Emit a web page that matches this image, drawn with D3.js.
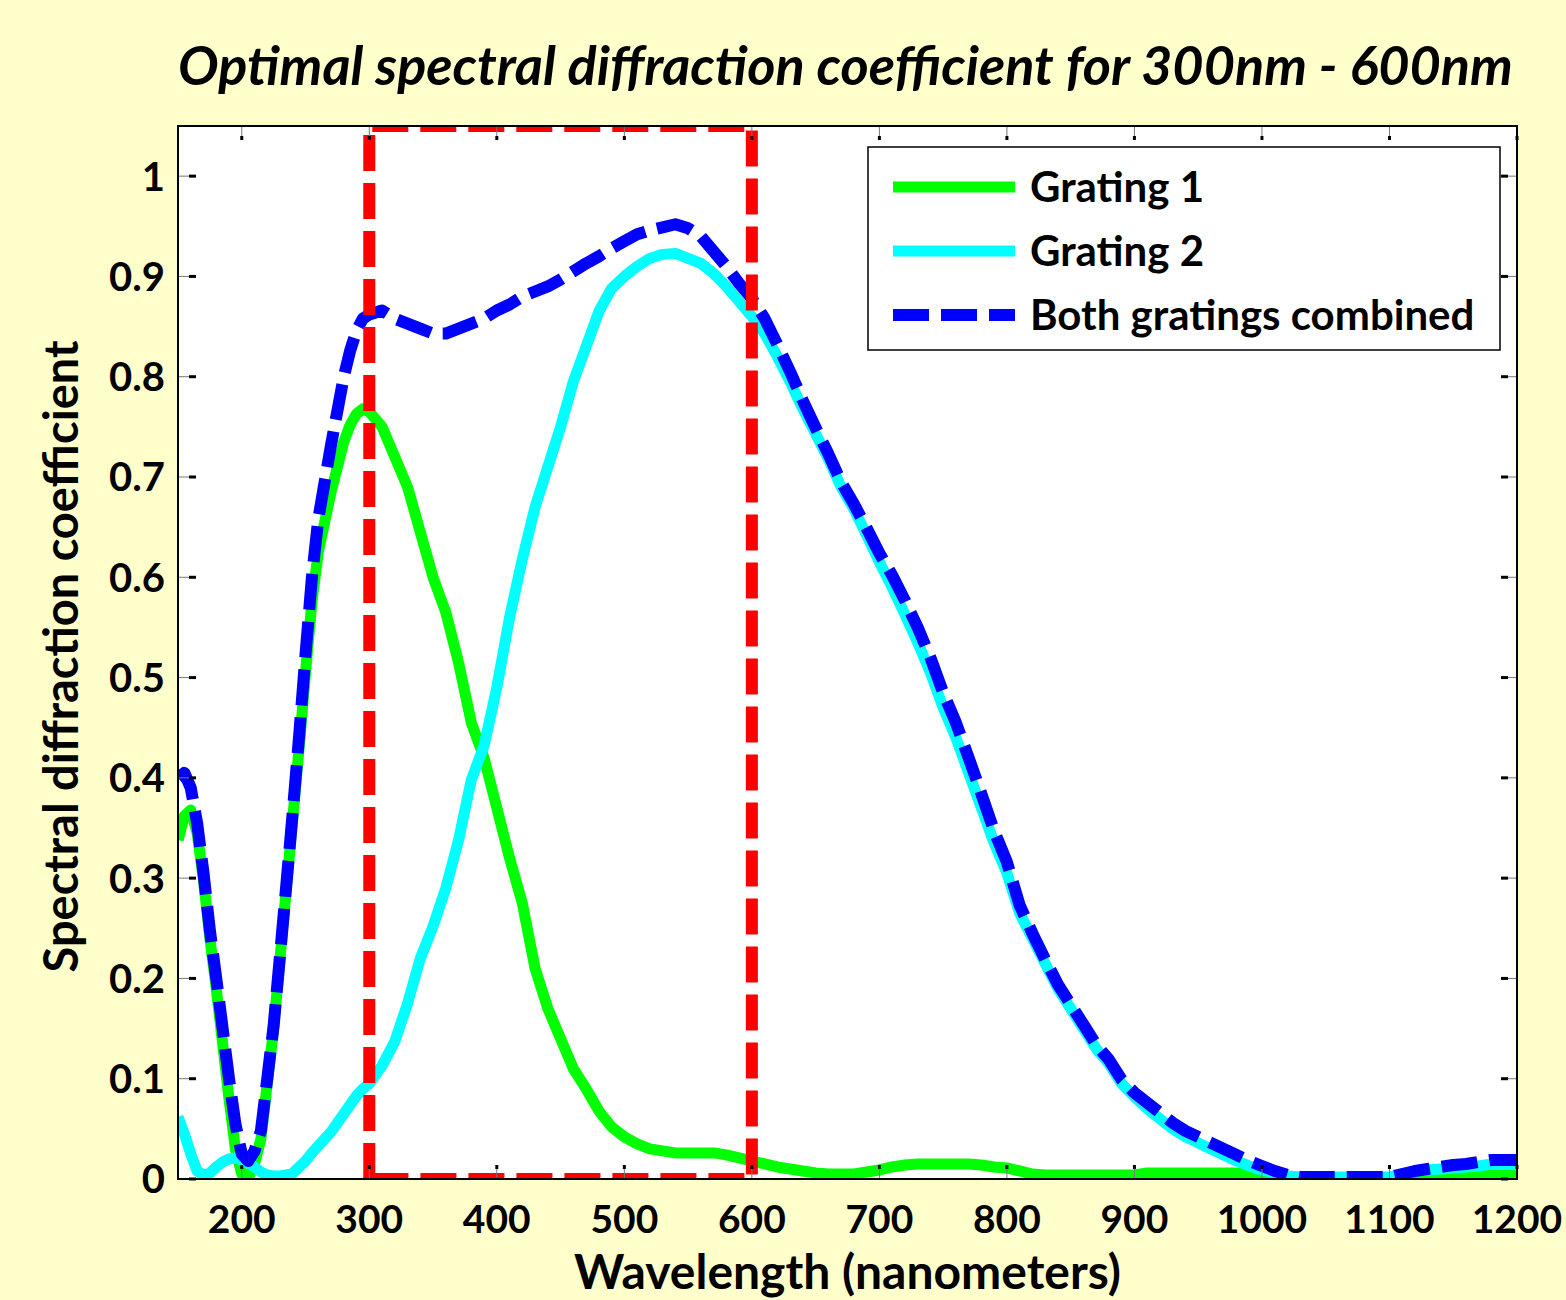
<!DOCTYPE html>
<html>
<head>
<meta charset="utf-8">
<script src="https://cdn.jsdelivr.net/npm/d3@7"></script>
<style>
    body { margin: 0; background: #ffffcc; }
    text { font-family: Lato, "Open Sans", sans-serif; font-weight: bold; fill: #000; }
</style>
</head>
<body>
<div id="chart"></div>
<script>
    // wavelengths (nm) shared by every series
    const wavelength = [
        150, 155, 160, 165, 170, 175, 180, 185, 190, 195, 200, 205, 210, 215, 220, 225, 230, 235, 240, 245,
        250, 255, 260, 265, 270, 275, 280, 285, 290, 295, 300,
        310, 320, 330, 340, 350, 360, 370, 380, 390, 400, 410, 420, 430, 440, 450, 460, 470, 480, 490, 500,
        510, 520, 530, 540, 550, 560, 570, 580, 590, 600, 610, 620, 630, 640, 650, 660, 670, 680, 690, 700,
        710, 720, 730, 740, 750, 760, 770, 780, 790, 800, 810, 820, 830, 840, 850, 860, 870, 880, 890, 900,
        910, 920, 930, 940, 950, 960, 970, 980, 990, 1000, 1010, 1020, 1030, 1040, 1050, 1060, 1070, 1080, 1090, 1100,
        1110, 1120, 1130, 1140, 1150, 1160, 1170, 1180, 1190, 1200
    ];

    const grating1 = [
        0.338, 0.362, 0.368, 0.345, 0.298, 0.24, 0.19, 0.135, 0.08, 0.03, 0.005, 0.0, 0.015, 0.04, 0.095, 0.15, 0.22, 0.29, 0.36, 0.43,
        0.505, 0.575, 0.625, 0.655, 0.685, 0.71, 0.735, 0.752, 0.763, 0.768, 0.765,
        0.75, 0.72, 0.69, 0.645, 0.6, 0.565, 0.515, 0.455, 0.42, 0.37, 0.32, 0.275, 0.21, 0.17, 0.14, 0.11, 0.09, 0.068, 0.052, 0.042,
        0.035, 0.03, 0.028, 0.026, 0.026, 0.026, 0.026, 0.024, 0.021, 0.018, 0.015, 0.012, 0.01, 0.008, 0.006, 0.005, 0.005, 0.005, 0.007, 0.009,
        0.012, 0.014, 0.015, 0.015, 0.015, 0.015, 0.015, 0.014, 0.012, 0.011, 0.008, 0.005, 0.004, 0.004, 0.004, 0.004, 0.004, 0.004, 0.004, 0.004,
        0.006, 0.006, 0.006, 0.006, 0.006, 0.006, 0.006, 0.006, 0.005, 0.004, 0.002, 0.001, 0, 0, 0, 0, 0, 0, 0, 0,
        0, 0, 0.001, 0.002, 0.003, 0.003, 0.004, 0.004, 0.004, 0.004
    ];

    const grating2 = [
        0.062, 0.045, 0.025, 0.008, 0.004, 0.006, 0.012, 0.017, 0.02, 0.021, 0.019, 0.016, 0.012, 0.007, 0.004, 0.003, 0.003, 0.004, 0.006, 0.012,
        0.018, 0.026, 0.033, 0.04, 0.047, 0.056, 0.065, 0.074, 0.083, 0.09, 0.095,
        0.113, 0.137, 0.175, 0.22, 0.252, 0.29, 0.338, 0.398, 0.432, 0.49, 0.56, 0.618, 0.67, 0.71, 0.75, 0.795, 0.83, 0.865, 0.888, 0.9,
        0.91, 0.918, 0.922, 0.923, 0.918, 0.913, 0.903, 0.89, 0.875, 0.86, 0.843, 0.82, 0.795, 0.768, 0.743, 0.718, 0.69, 0.668, 0.642, 0.615,
        0.59, 0.563, 0.535, 0.505, 0.47, 0.44, 0.405, 0.37, 0.335, 0.305, 0.265, 0.24, 0.215, 0.19, 0.17, 0.15, 0.13, 0.115, 0.095, 0.082,
        0.07, 0.06, 0.05, 0.042, 0.036, 0.03, 0.024, 0.018, 0.013, 0.009, 0.006, 0.003, 0.002, 0.002, 0.002, 0.002, 0.002, 0.002, 0.002, 0.002,
        0.005, 0.008, 0.009, 0.01, 0.011, 0.012, 0.013, 0.015, 0.015, 0.015
    ];

    const combined = [
        0.40, 0.405, 0.39, 0.355, 0.305, 0.248, 0.2, 0.15, 0.1, 0.055, 0.025, 0.018, 0.028, 0.048, 0.1, 0.153, 0.223, 0.294, 0.366, 0.442,
        0.523, 0.6, 0.658, 0.695, 0.732, 0.766, 0.8, 0.826, 0.846, 0.858, 0.862,
        0.866, 0.858, 0.853, 0.848, 0.843, 0.843, 0.848, 0.853, 0.858, 0.866, 0.872, 0.88, 0.885, 0.89, 0.897, 0.905, 0.913, 0.92, 0.928, 0.935,
        0.942, 0.946, 0.949, 0.952, 0.948, 0.94, 0.925, 0.91, 0.893, 0.878, 0.858, 0.832, 0.805, 0.776, 0.749, 0.723, 0.695, 0.673, 0.649, 0.624,
        0.602, 0.577, 0.55, 0.52, 0.485, 0.455, 0.42, 0.384, 0.347, 0.316, 0.273, 0.245, 0.219, 0.194, 0.174, 0.154, 0.134, 0.119, 0.099, 0.086,
        0.076, 0.066, 0.056, 0.048, 0.042, 0.036, 0.03, 0.024, 0.018, 0.013, 0.008, 0.004, 0.002, 0.002, 0.002, 0.002, 0.002, 0.002, 0.002, 0.002,
        0.005, 0.008, 0.01, 0.012, 0.014, 0.015, 0.017, 0.019, 0.019, 0.019
    ];

    const band = [300, 600];   // optimal range, drawn as the red dashed box
    const xTicks = [200, 300, 400, 500, 600, 700, 800, 900, 1000, 1100, 1200];
    const yTicks = [0, 0.1, 0.2, 0.3, 0.4, 0.5, 0.6, 0.7, 0.8, 0.9, 1];
    const seriesNames = ["Grating 1", "Grating 2", "Both gratings combined"];

    let margin = {top: 126, right: 49, bottom: 121, left: 178},
        width = 1566 - margin.left - margin.right,
        height = 1300 - margin.top - margin.bottom;

    let svg = d3.select("#chart")
        .append("svg")
        .attr("width", 1566)
        .attr("height", 1300)
        .style("background", "#ffffcc");

    let g = svg.append("g")
        .attr("transform", `translate(${margin.left}, ${margin.top})`);

    let x = d3.scaleLinear().domain([150, 1200]).range([0, width]);
    let y = d3.scaleLinear().domain([0, 1.05]).range([height, 0]);

    // plot background
    g.append("rect")
        .attr("width", width)
        .attr("height", height)
        .attr("fill", "#fff");

    g.append("clipPath")
        .attr("id", "plotClip")
        .append("rect")
        .attr("width", width)
        .attr("height", height);

    let plot = g.append("g").attr("clip-path", "url(#plotClip)");

    let line = d3.line()
        .x(d => x(d[0]))
        .y(d => y(d[1]));

    const series = [
        {name: seriesNames[0], values: grating1, color: "#00ff00", width: 11, dash: null},
        {name: seriesNames[1], values: grating2, color: "#00ffff", width: 11, dash: null},
        {name: seriesNames[2], values: combined, color: "#0000ff", width: 12, dash: "36,12"}
    ];

    series.forEach(s => {
        plot.append("path")
            .datum(wavelength.map((w, i) => [w, s.values[i]]))
            .attr("d", line)
            .attr("fill", "none")
            .attr("stroke", s.color)
            .attr("stroke-width", s.width)
            .attr("stroke-dasharray", s.dash)
            .attr("stroke-linejoin", "round");
    });

    // red dashed box for the 300-600 nm band
    plot.append("path")
        .datum([[band[0], 0], [band[0], 1.05], [band[1], 1.05], [band[1], 0], [band[0], 0]])
        .attr("d", line)
        .attr("fill", "none")
        .attr("stroke", "#ff0000")
        .attr("stroke-width", 12)
        .attr("stroke-dasharray", "36,12");

    // ticks pointing inward on all four sides (thin stem + dark end)
    function tick(x1, y1, x2, y2, x3, y3) {
        g.append("line")
            .attr("x1", x1).attr("y1", y1).attr("x2", x2).attr("y2", y2)
            .attr("stroke", "#777").attr("stroke-width", 1);
        g.append("line")
            .attr("x1", x2).attr("y1", y2).attr("x2", x3).attr("y2", y3)
            .attr("stroke", "#000").attr("stroke-width", 3);
    }

    yTicks.forEach(t => {
        let py = y(t);
        tick(0, py, 11, py, 18, py);
        tick(width, py, width - 9, py, width - 16, py);
    });
    xTicks.forEach(t => {
        let px = x(t);
        tick(px, height, px, height - 10, px, height - 14);
        tick(px, 0, px, 10, px, 14);
    });

    // frame
    g.append("rect")
        .attr("width", width)
        .attr("height", height)
        .attr("fill", "none")
        .attr("stroke", "#000")
        .attr("stroke-width", 2);

    // tick labels
    g.selectAll(".ylab")
        .data(yTicks)
        .join("text")
        .attr("class", "ylab")
        .attr("x", -13)
        .attr("y", d => y(d))
        .attr("dy", "0.36em")
        .attr("text-anchor", "end")
        .style("font-size", "40px")
        .text(d => d3.format("")(d));

    g.selectAll(".xlab")
        .data(xTicks)
        .join("text")
        .attr("class", "xlab")
        .attr("x", d => x(d))
        .attr("y", height + 54)
        .attr("text-anchor", "middle")
        .style("font-size", "39px")
        .text(d => d);

    // axis titles
    g.append("text")
        .attr("x", width / 2)
        .attr("y", height + 110)
        .attr("text-anchor", "middle")
        .style("font-size", "48px")
        .text("Wavelength (nanometers)");

    g.append("text")
        .attr("transform", `translate(${-100}, ${height / 2 + 4}) rotate(-90)`)
        .attr("text-anchor", "middle")
        .style("font-size", "47px")
        .text("Spectral diffraction coefficient");

    // title
    svg.append("text")
        .attr("x", margin.left + width / 2 - 2)
        .attr("y", 85)
        .attr("text-anchor", "middle")
        .style("font-size", "54px")
        .style("font-style", "italic")
        .text("Optimal spectral diffraction coefficient for 300nm - 600nm");

    // legend
    let legend = svg.append("g").attr("transform", "translate(868, 147)");

    legend.append("rect")
        .attr("width", 632)
        .attr("height", 203)
        .attr("fill", "#fff")
        .attr("stroke", "#000")
        .attr("stroke-width", 1.5);

    series.forEach((s, i) => {
        let ly = 40 + i * 64;
        legend.append("line")
            .attr("x1", 25).attr("x2", 147)
            .attr("y1", ly).attr("y2", ly)
            .attr("stroke", s.color)
            .attr("stroke-width", s.width)
            .attr("stroke-dasharray", s.dash);
        legend.append("text")
            .attr("x", 162)
            .attr("y", ly)
            .attr("dy", "0.36em")
            .style("font-size", "42px")
            .text(s.name);
    });
</script>
</body>
</html>
